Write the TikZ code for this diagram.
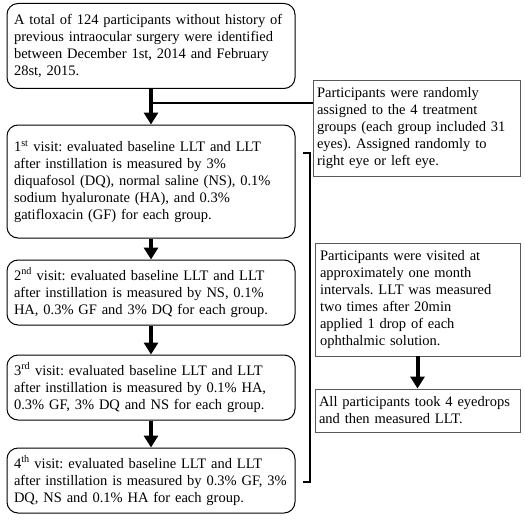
\documentclass[tikz,border=0pt]{standalone}
\usepackage{fontspec}
\setmainfont{Liberation Serif}
\usetikzlibrary{arrows.meta, positioning}

\begin{document}
\frenchspacing
\begin{tikzpicture}[x=1pt, y=-1pt,
    visitbox/.style={draw, rounded corners=11pt, line width=1pt, align=left,
        inner xsep=7pt, text width=274pt, minimum width=288pt,
        font=\fontsize{14.5}{17}\selectfont},
    notebox/.style={draw=black!65, line width=0.9pt, align=left,
        inner xsep=4pt, text width=199pt, minimum width=207pt,
        font=\fontsize{14.5}{17}\selectfont},
    flowarrow/.style={-{Triangle[width=14pt,length=12pt]}, line width=4pt}]

    \useasboundingbox (0,0) rectangle (526,524);

    % ==========================================
    % Colonna sinistra: visite
    % ==========================================

    \node[visitbox, minimum height=85pt] (start) at (151,46)
        {A total of 124 participants without history of\\
         previous intraocular surgery were identified\\
         between December 1st, 2014 and February\\
         28st, 2015.};

    \node[visitbox, minimum height=113pt] (visit1) at (151,181.5)
        {1\textsuperscript{st} visit: evaluated baseline LLT and LLT\\
         after instillation is measured by 3\%\\
         diquafosol (DQ), normal saline (NS), 0.1\%\\
         sodium hyaluronate (HA), and 0.3\%\\
         gatifloxacin (GF) for each group.};

    \node[visitbox, minimum height=65pt] (visit2) at (151,292.5)
        {2\textsuperscript{nd} visit: evaluated baseline LLT and LLT\\
         after instillation is measured by NS, 0.1\%\\
         HA, 0.3\% GF and 3\% DQ for each group.};

    \node[visitbox, minimum height=65pt] (visit3) at (151,387.5)
        {3\textsuperscript{rd} visit: evaluated baseline LLT and LLT\\
         after instillation is measured by 0.1\% HA,\\
         0.3\% GF, 3\% DQ and NS for each group.};

    \node[visitbox, minimum height=65pt] (visit4) at (151,480.5)
        {4\textsuperscript{th} visit: evaluated baseline LLT and LLT\\
         after instillation is measured by 0.3\% GF, 3\%\\
         DQ, NS and 0.1\% HA for each group.};

    % frecce tra le visite
    \draw[flowarrow] (start) -- (visit1);
    \draw[flowarrow] (visit1) -- (visit2);
    \draw[flowarrow] (visit2) -- (visit3);
    \draw[flowarrow] (visit3) -- (visit4);

    % ==========================================
    % Colonna destra: note
    % ==========================================

    \node[notebox, minimum height=96pt] (assign) at (416.5,128)
        {Participants were randomly\\
         assigned to the 4 treatment\\
         groups (each group included 31\\
         eyes). Assigned randomly to\\
         right eye or left eye.};

    \node[notebox, minimum height=113pt, minimum width=205pt, text width=195pt, inner xsep=5pt] (interval) at (417.5,299.5)
        {Participants were visited at\\
         approximately one month\\
         intervals. LLT was measured\\
         two times after 20min\\
         applied 1 drop of each\\
         ophthalmic solution.};

    \node[notebox, minimum height=43pt, minimum width=205pt, text width=197pt, inner xsep=4pt] (drops) at (417.5,410.5)
        {All participants took 4 eyedrops\\
         and then measured LLT.};

    \draw[flowarrow] (interval) -- (drops);

    % ramo verso la randomizzazione
    \coordinate (branch) at (151,103);
    \draw[line width=1.5pt] (branch) -- (branch -| assign.west);

    % parentesi che raccoglie le visite
    \coordinate (brtop) at (303,153);
    \coordinate (brbot) at (303,482);
    \draw[line width=2pt] (brtop) -- ++(7,0) |- (brbot);

\end{tikzpicture}
\end{document}
